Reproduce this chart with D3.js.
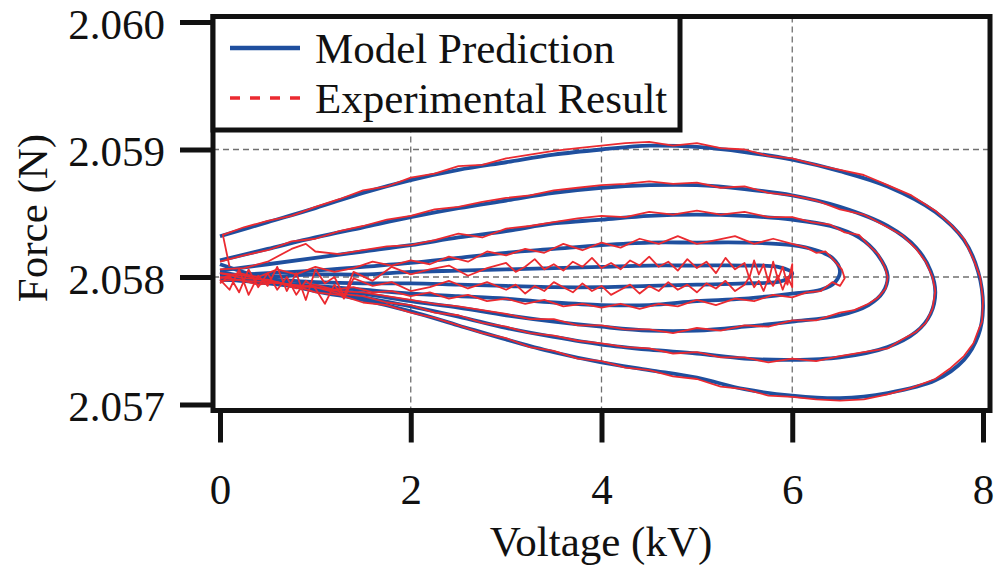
<!DOCTYPE html>
<html>
<head>
<meta charset="utf-8">
<script src="https://cdn.jsdelivr.net/npm/d3@7"></script>
<style>
  body { margin: 0; background: #fff; }
  svg { display: block; }
  text { font-family: "Liberation Serif", "Times New Roman", serif; fill: #111; }
</style>
</head>
<body>
<svg id="chart" width="997" height="569"></svg>
<script>
// Axis ticks and legend names
const xTicks = [0, 2, 4, 6, 8];
const yTicks = [2.057, 2.058, 2.059, 2.060];
const xGrid = [2, 4, 6];
const yGrid = [2.058, 2.059];
const seriesNames = ["Model Prediction", "Experimental Result"];
const xTitle = "Voltage (kV)";
const yTitle = "Force (N)";

// Model prediction loops, [voltage kV, force N], peak voltages 8.0 / 7.5 / 7.0 / 6.5 / 6.0 kV
const model80 = [[0,2.05832],[0.5,2.05843],[1,2.05854],[1.5,2.05866],[2,2.05876],[2.5,2.05884],[3,2.05890],[3.5,2.05896],[4,2.05900],[4.5,2.05903],[5,2.05902],[5.5,2.05898],[6,2.05892],[6.5,2.05883],[7,2.05871],[7.5,2.05851],[7.8,2.05829],[7.95,2.05804],[8,2.05776],[7.95,2.05754],[7.8,2.05735],[7.5,2.05719],[7,2.05709],[6.5,2.05705],[6,2.05707],[5.5,2.05712],[5,2.05721],[4.5,2.05727],[4,2.05733],[3.5,2.05741],[3,2.05751],[2.5,2.05762],[2,2.05773],[1.5,2.05782],[1,2.05789],[0.5,2.05798],[0,2.05810]];
const model75 = [[0,2.05813],[0.5,2.05822],[1,2.05831],[1.5,2.05839],[2,2.05847],[2.5,2.05854],[3,2.05860],[3.5,2.05866],[4,2.05870],[4.5,2.05872],[5,2.05872],[5.5,2.05869],[6,2.05864],[6.5,2.05855],[7,2.05840],[7.3,2.05823],[7.45,2.05805],[7.5,2.05788],[7.45,2.05771],[7.3,2.05757],[7,2.05745],[6.5,2.05737],[6,2.05735],[5.5,2.05736],[5,2.05740],[4.5,2.05743],[4,2.05747],[3.5,2.05753],[3,2.05760],[2.5,2.05769],[2,2.05777],[1.5,2.05784],[1,2.05791],[0.5,2.05797],[0,2.05804]];
const model70 = [[0,2.05805],[0.5,2.05810],[1,2.05815],[1.5,2.05820],[2,2.05825],[2.5,2.05831],[3,2.05836],[3.5,2.05842],[4,2.05845],[4.5,2.05848],[5,2.05849],[5.5,2.05848],[6,2.05845],[6.4,2.05840],[6.7,2.05831],[6.9,2.05817],[7,2.05801],[6.95,2.05788],[6.8,2.05778],[6.5,2.05770],[6,2.05765],[5.5,2.05761],[5,2.05758],[4.5,2.05758],[4,2.05761],[3.5,2.05765],[3,2.05770],[2.5,2.05776],[2,2.05781],[1.5,2.05787],[1,2.05791],[0.5,2.05795],[0,2.05799]];
const model65 = [[0,2.05801],[0.5,2.05803],[1,2.05805],[1.5,2.05808],[2,2.05811],[2.5,2.05815],[3,2.05819],[3.5,2.05822],[4,2.05825],[4.5,2.05827],[5,2.05827],[5.5,2.05827],[6,2.05825],[6.25,2.05821],[6.42,2.05815],[6.5,2.05805],[6.45,2.05796],[6.3,2.05790],[6,2.05787],[5.5,2.05783],[5,2.05781],[4.5,2.05778],[4,2.05778],[3.5,2.05780],[3,2.05783],[2.5,2.05785],[2,2.05787],[1.5,2.05790],[1,2.05793],[0.5,2.05796],[0,2.05798]];
const model60 = [[0,2.05799],[0.5,2.05800],[1,2.05802],[1.5,2.05802],[2,2.05804],[2.5,2.05805],[3,2.05806],[3.5,2.05807],[4,2.05808],[4.5,2.05809],[5,2.05809],[5.5,2.05809],[5.85,2.05808],[6,2.05803],[5.9,2.05797],[5.5,2.05795],[5,2.05794],[4.5,2.05793],[4,2.05792],[3.5,2.05792],[3,2.05793],[2.5,2.05794],[2,2.05795],[1.5,2.05795],[1,2.05796],[0.5,2.05798],[0,2.05798]];

// Measured loops, [voltage kV, force N]
const exp80 = [[0.1,2.05808],[0.03,2.05833],[0.25,2.05839],[0.5,2.05844],[0.75,2.05848],[1,2.05855],[1.25,2.05861],[1.5,2.05868],[1.75,2.05871],[2,2.05878],[2.25,2.05881],[2.5,2.05887],[2.75,2.05888],[3,2.05893],[3.25,2.05896],[3.5,2.05899],[3.75,2.05901],[4,2.05903],[4.25,2.05905],[4.5,2.05906],[4.75,2.05903],[5,2.05905],[5.25,2.05901],[5.5,2.05900],[5.75,2.05895],[6,2.05893],[6.25,2.05888],[6.5,2.05884],[6.75,2.05880],[7,2.05872],[7.25,2.05864],[7.5,2.05852],[7.65,2.05842],[7.8,2.05830],[7.9,2.05814],[7.97,2.05800],[8,2.05782],[7.99,2.05765],[7.96,2.05760],[7.9,2.05748],[7.8,2.05738],[7.65,2.05728],[7.5,2.05720],[7.25,2.05713],[7,2.05708],[6.75,2.05704],[6.5,2.05703],[6.25,2.05704],[6,2.05706],[5.75,2.05707],[5.5,2.05712],[5.25,2.05714],[5,2.05720],[4.75,2.05722],[4.5,2.05727],[4.25,2.05729],[4,2.05734],[3.75,2.05736],[3.5,2.05742],[3.25,2.05745],[3,2.05752],[2.75,2.05756],[2.5,2.05762],[2.25,2.05768],[2,2.05772],[1.75,2.05778],[1.5,2.05780],[1.25,2.05786],[1,2.05788],[0.75,2.05794],[0.5,2.05797],[0.25,2.05801],[0,2.05803]];
const exp75 = [[0,2.05812],[0.25,2.05817],[0.5,2.05821],[0.75,2.05828],[1,2.05830],[1.25,2.05836],[1.5,2.05840],[1.75,2.05845],[2,2.05848],[2.25,2.05853],[2.5,2.05855],[2.75,2.05859],[3,2.05862],[3.25,2.05864],[3.5,2.05868],[3.75,2.05870],[4,2.05872],[4.25,2.05873],[4.5,2.05875],[4.75,2.05873],[5,2.05874],[5.25,2.05870],[5.5,2.05871],[5.75,2.05866],[6,2.05864],[6.25,2.05860],[6.5,2.05853],[6.75,2.05849],[7,2.05839],[7.15,2.05833],[7.3,2.05822],[7.4,2.05812],[7.47,2.05800],[7.5,2.05789],[7.47,2.05775],[7.4,2.05764],[7.3,2.05757],[7.15,2.05751],[7,2.05744],[6.75,2.05741],[6.5,2.05738],[6.25,2.05734],[6,2.05736],[5.75,2.05733],[5.5,2.05737],[5.25,2.05737],[5,2.05741],[4.75,2.05740],[4.5,2.05744],[4.25,2.05745],[4,2.05748],[3.75,2.05750],[3.5,2.05754],[3.25,2.05756],[3,2.05761],[2.75,2.05764],[2.5,2.05770],[2.25,2.05772],[2,2.05778],[1.75,2.05780],[1.5,2.05785],[1.25,2.05787],[1,2.05792],[0.75,2.05793],[0.5,2.05798],[0.25,2.05799],[0,2.05803]];
const exp70 = [[0,2.05806],[0.25,2.05807],[0.5,2.05812],[0.75,2.05822],[0.9,2.05826],[1,2.05820],[1.25,2.05818],[1.5,2.05821],[1.75,2.05824],[2,2.05825],[2.25,2.05829],[2.5,2.05834],[2.75,2.05831],[3,2.05838],[3.25,2.05840],[3.5,2.05843],[3.75,2.05846],[4,2.05848],[4.25,2.05847],[4.5,2.05851],[4.75,2.05849],[5,2.05852],[5.25,2.05849],[5.5,2.05851],[5.75,2.05847],[6,2.05847],[6.2,2.05843],[6.4,2.05841],[6.55,2.05835],[6.7,2.05833],[6.8,2.05825],[6.9,2.05818],[6.97,2.05808],[7,2.05800],[6.98,2.05791],[6.9,2.05784],[6.8,2.05779],[6.65,2.05774],[6.5,2.05772],[6.25,2.05766],[6,2.05766],[5.75,2.05761],[5.5,2.05762],[5.25,2.05758],[5,2.05760],[4.75,2.05756],[4.5,2.05759],[4.25,2.05759],[4,2.05762],[3.75,2.05762],[3.5,2.05767],[3.25,2.05767],[3,2.05771],[2.75,2.05774],[2.5,2.05777],[2.25,2.05779],[2,2.05782],[1.75,2.05785],[1.5,2.05788],[1.25,2.05789],[1,2.05792],[0.75,2.05794],[0.5,2.05796],[0.25,2.05797],[0,2.05800]];
const exp65 = [[0,2.05799],[0.2,2.05803],[0.4,2.05800],[0.6,2.05806],[0.8,2.05802],[1,2.05808],[1.2,2.05804],[1.4,2.05807],[1.6,2.05812],[1.8,2.05809],[2,2.05813],[2.2,2.05810],[2.4,2.05816],[2.6,2.05812],[2.8,2.05820],[3,2.05817],[3.2,2.05822],[3.4,2.05819],[3.6,2.05826],[3.8,2.05821],[4,2.05827],[4.2,2.05823],[4.4,2.05830],[4.6,2.05826],[4.8,2.05832],[5,2.05826],[5.2,2.05829],[5.4,2.05832],[5.6,2.05826],[5.8,2.05830],[6,2.05826],[6.15,2.05823],[6.25,2.05819],[6.35,2.05820],[6.45,2.05812],[6.52,2.05806],[6.55,2.05799],[6.5,2.05793],[6.42,2.05796],[6.3,2.05789],[6.15,2.05788],[6,2.05784],[5.8,2.05786],[5.6,2.05781],[5.4,2.05783],[5.2,2.05778],[5,2.05782],[4.8,2.05777],[4.6,2.05779],[4.4,2.05775],[4.2,2.05779],[4,2.05776],[3.8,2.05779],[3.6,2.05777],[3.4,2.05782],[3.2,2.05779],[3,2.05783],[2.8,2.05781],[2.6,2.05786],[2.4,2.05783],[2.2,2.05788],[2,2.05785],[1.8,2.05789],[1.6,2.05788],[1.4,2.05792],[1.2,2.05790],[1,2.05794],[0.8,2.05791],[0.6,2.05796],[0.4,2.05794],[0.2,2.05798],[0,2.05797]];
const exp60 = [[0,2.05798],[0.1,2.05790],[0.2,2.05806],[0.3,2.05786],[0.4,2.05801],[0.5,2.05793],[0.6,2.05808],[0.7,2.05789],[0.8,2.05803],[0.9,2.05782],[1,2.05806],[1.1,2.05795],[1.2,2.05800],[1.3,2.05785],[1.4,2.05804],[1.6,2.05797],[1.8,2.05808],[2,2.05802],[2.2,2.05806],[2.4,2.05809],[2.6,2.05801],[2.8,2.05807],[3,2.05811],[3.1,2.05804],[3.2,2.05808],[3.3,2.05814],[3.4,2.05806],[3.5,2.05810],[3.6,2.05805],[3.7,2.05812],[3.8,2.05808],[3.9,2.05815],[4,2.05807],[4.1,2.05811],[4.2,2.05806],[4.3,2.05813],[4.4,2.05809],[4.5,2.05816],[4.6,2.05808],[4.7,2.05812],[4.8,2.05805],[4.9,2.05814],[5,2.05807],[5.1,2.05812],[5.2,2.05803],[5.3,2.05815],[5.4,2.05806],[5.5,2.05811],[5.55,2.05799],[5.6,2.05813],[5.65,2.05802],[5.7,2.05810],[5.75,2.05796],[5.8,2.05812],[5.85,2.05798],[5.9,2.05808],[5.95,2.05794],[6,2.05810],[6,2.05792],[5.95,2.05800],[5.9,2.05790],[5.85,2.05801],[5.8,2.05793],[5.75,2.05799],[5.7,2.05789],[5.65,2.05797],[5.6,2.05792],[5.55,2.05800],[5.5,2.05794],[5.4,2.05789],[5.3,2.05797],[5.2,2.05791],[5.1,2.05795],[5,2.05788],[4.9,2.05794],[4.8,2.05790],[4.7,2.05796],[4.6,2.05789],[4.5,2.05793],[4.4,2.05787],[4.3,2.05794],[4.2,2.05790],[4.1,2.05786],[4,2.05793],[3.9,2.05789],[3.8,2.05795],[3.7,2.05788],[3.6,2.05792],[3.5,2.05796],[3.4,2.05789],[3.3,2.05793],[3.2,2.05787],[3.1,2.05794],[3,2.05790],[2.8,2.05796],[2.6,2.05791],[2.4,2.05797],[2.2,2.05792],[2,2.05789],[1.8,2.05796],[1.6,2.05793],[1.4,2.05799],[1.3,2.05783],[1.2,2.05794],[1.1,2.05779],[1,2.05791],[0.9,2.05797],[0.8,2.05786],[0.7,2.05800],[0.6,2.05790],[0.5,2.05803],[0.4,2.05792],[0.3,2.05806],[0.2,2.05788],[0.1,2.05801],[0,2.05795]];

const modelLoops = [model80, model75, model70, model65, model60];
const expLoops = [exp80, exp75, exp70, exp65, exp60];

const blue = "#1f4f9e";
const red = "#eb2a30";

const svg = d3.select("#chart");
const frame = { left: 213, right: 990, top: 16.5, bottom: 410.5 };

const x = d3.scaleLinear().domain([0, 8]).range([220, 983]);
const y = d3.scaleLinear().domain([2.057, 2.060]).range([404.5, 22]);

// dashed grid
const grid = svg.append("g").attr("stroke", "#707070").attr("stroke-width", 1.3)
  .attr("stroke-dasharray", "6,4");
grid.selectAll("line.v").data(xGrid).join("line").attr("class", "v")
  .attr("x1", d => x(d)).attr("x2", d => x(d))
  .attr("y1", frame.top).attr("y2", frame.bottom);
grid.selectAll("line.h").data(yGrid).join("line").attr("class", "h")
  .attr("x1", frame.left).attr("x2", frame.right)
  .attr("y1", d => y(d)).attr("y2", d => y(d));

// loops
const smooth = d3.line().x(d => x(d[0])).y(d => y(d[1])).curve(d3.curveCatmullRom.alpha(0.5));
const raw = d3.line().x(d => x(d[0])).y(d => y(d[1]));

svg.append("g").selectAll("path").data(modelLoops).join("path")
  .attr("d", smooth).attr("fill", "none").attr("stroke", blue)
  .attr("stroke-width", 3.8).attr("stroke-linejoin", "round");

svg.append("g").selectAll("path").data(expLoops).join("path")
  .attr("d", raw).attr("fill", "none").attr("stroke", red)
  .attr("stroke-width", 1.8).attr("stroke-linejoin", "round");

// plot frame
svg.append("rect")
  .attr("x", frame.left).attr("y", frame.top)
  .attr("width", frame.right - frame.left).attr("height", frame.bottom - frame.top)
  .attr("fill", "none").attr("stroke", "#111").attr("stroke-width", 5);

// axes
const tickFont = 43;
const labelFont = 43;
const yAxis = svg.append("g").attr("transform", `translate(${frame.left},0)`)
  .call(d3.axisLeft(y).tickValues(yTicks).tickSize(33).tickPadding(15).tickFormat(d3.format(".3f")));
const xAxis = svg.append("g").attr("transform", `translate(0,${frame.bottom})`)
  .call(d3.axisBottom(x).tickValues(xTicks).tickSize(32).tickPadding(31).tickFormat(d3.format("d")));
[yAxis, xAxis].forEach(a => {
  a.select(".domain").remove();
  a.selectAll(".tick line").attr("stroke", "#111").attr("stroke-width", 5);
  a.selectAll(".tick text").attr("font-size", tickFont)
    .attr("font-family", "'Liberation Serif', 'Times New Roman', serif").attr("fill", "#111");
});
yAxis.selectAll(".tick text").attr("dy", "0.38em");

// axis titles
svg.append("text").attr("x", 601).attr("y", 556).attr("text-anchor", "middle")
  .attr("font-size", labelFont).text(xTitle);
svg.append("text").attr("transform", "translate(47,218) rotate(-90)")
  .attr("text-anchor", "middle").attr("font-size", labelFont).text(yTitle);

// legend
const legend = svg.append("g");
legend.append("rect").attr("x", frame.left).attr("y", frame.top)
  .attr("width", 680 - frame.left).attr("height", 130 - frame.top)
  .attr("fill", "#fff").attr("stroke", "#111").attr("stroke-width", 5);
const rows = [
  { name: seriesNames[0], color: blue, width: 4.5, dash: null, cy: 48 },
  { name: seriesNames[1], color: red, width: 3.5, dash: "10,10", cy: 98 }
];
rows.forEach(r => {
  legend.append("line").attr("x1", 230).attr("x2", 300).attr("y1", r.cy).attr("y2", r.cy)
    .attr("stroke", r.color).attr("stroke-width", r.width)
    .attr("stroke-dasharray", r.dash);
  legend.append("text").attr("x", 315).attr("y", r.cy + 15)
    .attr("font-size", labelFont).text(r.name);
});
</script>
</body>
</html>
